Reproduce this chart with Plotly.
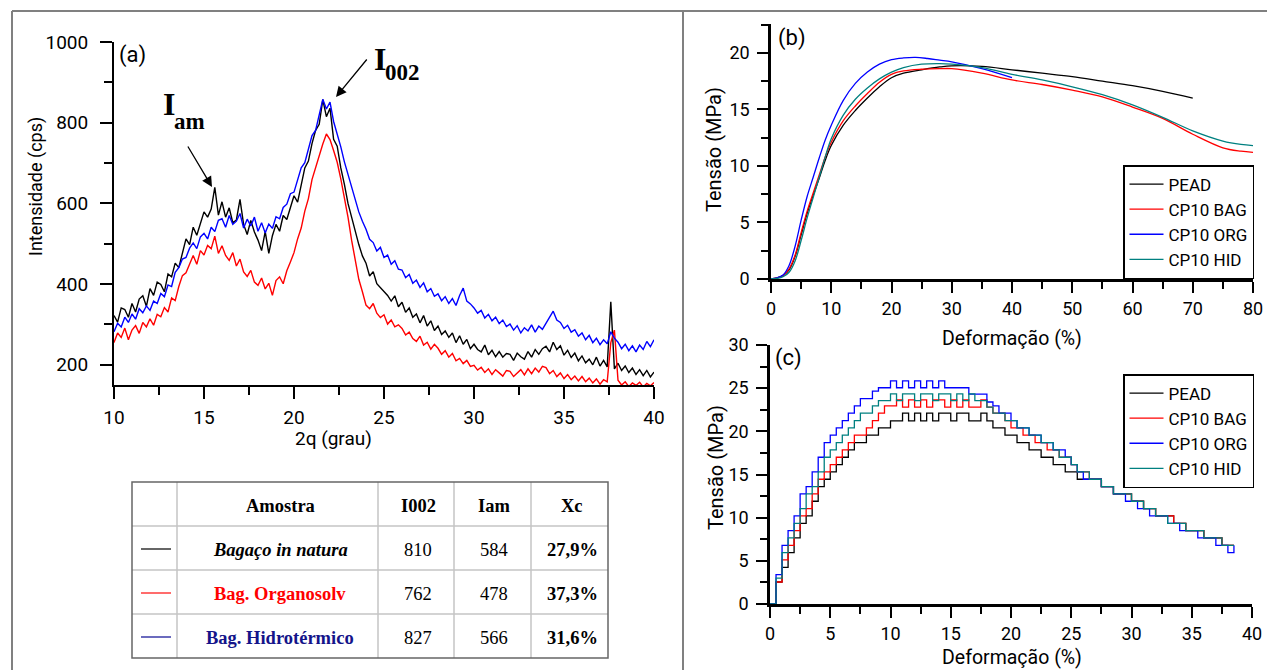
import numpy as np
import plotly.graph_objects as go

W, H = 1267, 670
SANS = "Roboto, Lato, sans-serif"
SERIF = "Liberation Serif, Times New Roman, serif"

# ---------------- (a) XRD data (0.2 deg steps) ----------------
two_theta = np.round(np.arange(10.0, 40.0001, 0.2), 1)
xrd_natura = [
    322, 306, 341, 337, 318, 352, 331, 363, 371, 345,
    389, 372, 405, 399, 381, 425, 418, 452, 441, 478,
    512, 498, 541, 521, 553, 579, 566, 586, 640, 571,
    604, 566, 589, 552, 559, 610, 548, 523, 558, 529,
    509, 483, 530, 476, 520, 548, 531, 570, 560, 591,
    619, 603, 642, 688, 705, 748, 781, 796, 857, 815,
    836, 759, 742, 688, 647, 600, 566, 531, 498, 470,
    452, 420, 431, 401, 392, 381, 372, 358, 371, 344,
    355, 330, 341, 318, 326, 304, 322, 296, 309, 285,
    296, 275, 284, 268, 279, 255, 272, 251, 263, 240,
    251, 238, 232, 249, 225, 236, 220, 233, 219, 228,
    226, 211, 229, 220, 214, 233, 219, 238, 226, 240,
    246, 232, 256, 238, 247, 224, 236, 218, 229, 210,
    222, 205, 214, 200, 219, 197, 211, 195, 356, 190,
    204, 186, 197, 181, 192, 176, 188, 173, 186, 170,
    182]
xrd_organosolv = [
    255, 279, 268, 291, 262, 286, 297, 278, 305, 294,
    314, 298, 325, 319, 342, 331, 366, 359, 394, 421,
    428, 452, 471, 449, 483, 472, 496, 488, 519, 476,
    495, 471, 459, 478, 445, 462, 430, 419, 434, 405,
    397, 415, 388, 402, 372, 409, 418, 401, 433, 455,
    478, 512, 539, 581, 612, 659, 690, 718, 747, 772,
    758, 731, 702, 661, 618, 566, 509, 455, 412, 381,
    348, 339, 352, 328, 317, 324, 301, 311, 294, 299,
    290, 274, 281, 265, 258, 271, 249, 256, 239, 251,
    241, 226, 235, 219, 228, 210, 216, 203, 211, 196,
    199, 187, 194, 181, 190, 176, 188, 180, 172, 186,
    184, 171, 179, 188, 175, 190, 178, 192, 182, 196,
    193, 178, 186, 171, 180, 166, 176, 163, 172, 160,
    171, 158, 167, 155, 165, 152, 163, 158, 255, 286,
    162, 150, 158, 146, 155, 149, 157, 145, 154, 148,
    156]
xrd_hidrotermico = [
    282, 303, 294, 318, 305, 326, 313, 339, 329, 346,
    335, 358, 352, 377, 369, 398, 394, 429, 441, 462,
    466, 489, 502, 488, 517, 526, 512, 541, 530, 558,
    562, 541, 570, 548, 556, 575, 539, 561, 544, 566,
    531, 552, 527, 549, 538, 567, 562, 590, 598, 624,
    628, 661, 688, 701, 732, 768, 781, 817, 858, 834,
    851, 803, 772, 740, 703, 672, 637, 604, 579, 556,
    536, 511, 503, 482, 491, 466, 472, 449, 458, 437,
    435, 416, 424, 402, 410, 392, 403, 381, 389, 370,
    376, 359, 369, 352, 364, 347, 372, 390, 358, 351,
    341, 328, 335, 316, 325, 309, 318, 302, 311, 295,
    301, 286, 297, 279, 292, 284, 299, 281, 296, 288,
    302, 319, 333, 311, 305, 290, 298, 281, 287, 271,
    279, 262, 273, 255, 266, 250, 262, 252, 282, 266,
    256, 240, 251, 235, 247, 232, 249, 238, 258, 245,
    262]

# table values
table_header = ["Amostra", "I002", "Iam", "Xc"]
samples = ["<i>Bagaço in natura</i>", "Bag. Organosolv", "Bag. Hidrotérmico"]
sample_colors = ["#000000", "#ff0000", "#14148a"]
sample_line_colors = ["#333333", "#ff3b3b", "#3a3aa8"]
i002 = [810, 762, 827]
iam = [584, 478, 566]
xc = ["27,9%", "37,3%", "31,6%"]

# ---------------- (b) tensile curves ----------------
b_names = ["PEAD", "CP10 BAG", "CP10 ORG", "CP10 HID"]
b_colors = ["#000000", "#ff0000", "#0000ff", "#008080"]
b_strain_pead = [0, 1, 2, 3, 4, 5, 6, 7, 8, 9, 10, 12, 14, 16, 18, 20, 22, 25, 28, 30, 35, 40, 45, 50, 55, 60, 65, 70]
b_stress_pead = [0, 0.1, 0.3, 0.8, 2.0, 3.9, 5.8, 7.4, 8.9, 10.5, 11.8, 13.6, 14.9, 16.0, 17.0, 17.8, 18.2, 18.5,
                 18.75, 18.85, 18.8, 18.5, 18.2, 17.9, 17.5, 17.1, 16.6, 16.0]
b_strain_bag = [0, 1, 2, 3, 4, 5, 6, 7, 8, 9, 10, 12, 14, 16, 18, 20, 22, 25, 28, 30, 35, 40, 45, 50, 55, 60, 65, 70, 75, 78, 80]
b_stress_bag = [0, 0.1, 0.3, 0.9, 2.1, 4.1, 6.0, 7.6, 9.2, 10.8, 12.1, 14.0, 15.3, 16.4, 17.4, 18.1, 18.4, 18.55,
                18.6, 18.6, 18.2, 17.6, 17.2, 16.7, 16.1, 15.2, 14.2, 12.8, 11.6, 11.3, 11.2]
b_strain_org = [0, 1, 2, 3, 4, 5, 6, 7, 8, 9, 10, 12, 14, 16, 18, 20, 22, 24, 26, 28, 30, 35, 40]
b_stress_org = [0, 0.1, 0.35, 1.2, 2.9, 5.2, 7.3, 9.0, 10.7, 12.3, 13.6, 15.8, 17.3, 18.3, 19.0, 19.4, 19.55, 19.6,
                19.5, 19.35, 19.2, 18.6, 17.8]
b_strain_hid = [0, 1, 2, 3, 4, 5, 6, 7, 8, 9, 10, 12, 14, 16, 18, 20, 22, 25, 28, 30, 35, 40, 45, 50, 55, 60, 65, 70, 75, 78, 80]
b_stress_hid = [0, 0.05, 0.2, 0.6, 1.6, 3.4, 5.4, 7.2, 9.0, 10.8, 12.4, 14.5, 15.9, 16.9, 17.7, 18.3, 18.7, 19.0,
                19.05, 19.0, 18.7, 18.1, 17.6, 17.0, 16.3, 15.4, 14.3, 13.1, 12.2, 11.9, 11.8]

# ---------------- (c) stepped tensile curves ----------------
c_strain = np.round(np.arange(0, 38.51, 0.5), 1)
c_stress_pead = [
    0, 2.55, 4.25, 5.95, 7.65, 9.35, 10.2, 11.9, 13.6, 14.45,
    15.3, 16.15, 17.0, 17.85, 18.7, 18.7, 19.55, 19.55, 20.4, 20.4,
    21.2, 21.2, 22.1, 21.2, 22.1, 21.2, 22.1, 21.2, 22.1, 22.1,
    21.2, 22.1, 22.1, 21.2, 21.2, 22.1, 21.2, 20.4, 20.4, 19.55,
    19.55, 18.7, 18.7, 17.85, 17.85, 17.0, 17.0, 16.15, 16.15, 15.3,
    15.3,
    14.45, 14.45, 14.45, 14.45, 13.6, 13.6, 12.75, 12.75, 12.75, 11.9,
    11.9, 11.05, 11.05, 10.2, 10.2, 10.2, 9.35, 9.35, 8.5, 8.5,
    8.5, 7.65, 7.65, 7.65, 6.8, 6.8, 6.8]
c_stress_bag = [
    0, 2.55, 5.1, 6.8, 8.5, 10.2, 11.05, 12.75, 14.45, 15.3,
    16.15, 17.0, 17.85, 18.7, 19.55, 19.55, 20.4, 21.25, 22.1, 22.95,
    22.95, 23.65, 22.8, 23.65, 22.8, 23.65, 22.8, 23.65, 23.65, 22.8,
    23.65, 22.8, 23.65, 22.8, 22.8, 23.65, 22.8, 22.1, 22.1, 21.25,
    20.4, 20.4, 19.55, 19.55, 18.7, 18.7, 17.85, 17.85, 17.0, 17.0,
    16.15,
    15.3, 15.3, 14.45, 14.45, 13.6, 13.6, 12.75, 12.75, 12.75, 11.9,
    11.9, 11.05, 11.05, 10.2, 10.2, 10.2, 9.35, 9.35, 8.5, 8.5,
    8.5, 7.65, 7.65, 7.65, 6.8, 6.8, 6.8]
c_stress_org = [
    0, 3.4, 6.8, 8.5, 10.2, 12.75, 13.6, 15.3, 17.0, 18.7,
    19.55, 20.4, 21.25, 22.1, 22.95, 23.8, 23.8, 24.65, 25.05, 25.05,
    25.85, 25.05, 25.85, 25.05, 25.85, 25.05, 25.85, 25.05, 25.85, 25.05,
    25.05, 25.05, 25.05, 24.3, 24.3, 24.3, 23.4, 22.95, 22.1, 22.1,
    21.25, 20.4, 20.4, 19.55, 19.55, 18.7, 18.7, 17.85, 17.85, 17.0,
    16.15,
    15.3, 14.45, 14.45, 14.45, 13.6, 13.6, 12.75, 12.75, 11.9, 11.9,
    11.05, 11.05, 10.2, 10.2, 10.2, 9.35, 9.35, 8.5, 8.5, 8.5,
    7.65, 7.65, 7.65, 6.8, 6.8, 5.95, 6.8]
c_stress_hid = [
    0, 3.0, 5.95, 7.65, 9.35, 11.05, 12.75, 13.6, 15.3, 17.0,
    17.85, 18.7, 19.55, 20.4, 21.25, 22.1, 22.1, 22.95, 23.55, 23.55,
    24.35, 23.55, 24.35, 24.35, 23.55, 24.35, 24.35, 23.55, 24.35, 24.35,
    23.55, 24.35, 23.55, 24.35, 23.55, 23.55, 22.8, 22.1, 22.1, 21.25,
    21.25, 20.4, 20.4, 19.55, 19.55, 18.7, 18.7, 17.85, 17.0, 17.0,
    16.15,
    15.3, 15.3, 14.45, 14.45, 13.6, 13.6, 12.75, 12.75, 12.75, 11.9,
    11.9, 11.05, 11.05, 10.2, 10.2, 9.35, 9.35, 9.35, 8.5, 8.5,
    8.5, 7.65, 7.65, 7.65, 6.8, 6.8, 6.8]


def px(x):
    return x / W


def py(y):
    return 1 - y / H


fig = go.Figure()

# (a)
for yv, col in [(xrd_natura, "#000000"), (xrd_organosolv, "#ff0000"), (xrd_hidrotermico, "#0000ff")]:
    fig.add_trace(go.Scatter(x=two_theta, y=yv, mode="lines", line=dict(color=col, width=1.4),
                             xaxis="x", yaxis="y", showlegend=False, hoverinfo="skip"))

# (b)
b_data = [(b_strain_pead, b_stress_pead), (b_strain_bag, b_stress_bag),
          (b_strain_org, b_stress_org), (b_strain_hid, b_stress_hid)]
for (xs, ys), nm, col in zip(b_data, b_names, b_colors):
    fig.add_trace(go.Scatter(x=xs, y=ys, mode="lines", name=nm,
                             line=dict(color=col, width=1.3, shape="spline", smoothing=1.0),
                             xaxis="x2", yaxis="y2", legend="legend", hoverinfo="skip"))

# (c)
for ys, nm, col in zip([c_stress_pead, c_stress_bag, c_stress_org, c_stress_hid], b_names, b_colors):
    fig.add_trace(go.Scatter(x=c_strain, y=ys, mode="lines", name=nm,
                             line=dict(color=col, width=1.3, shape="hv"),
                             xaxis="x3", yaxis="y3", legend="legend2", hoverinfo="skip"))


def ax(domain, rng, dtick, mdtick, anchor, tickfont, lw, tl, mtl, tick0=0, standoff=None):
    d = dict(domain=domain, range=rng, anchor=anchor, showline=True, linecolor="black", linewidth=lw,
             showgrid=False, zeroline=False, ticks="outside", ticklen=tl, tickwidth=2, tickcolor="black",
             tick0=tick0, dtick=dtick, tickfont=dict(family=SANS, size=tickfont, color="black"),
             minor=dict(ticks="outside", ticklen=mtl, tickwidth=2, tickcolor="black", dtick=mdtick,
                        showgrid=False),
             fixedrange=True, automargin=False)
    if standoff is not None:
        d["ticklabelstandoff"] = standoff
    return d


leg_common = dict(xanchor="right", yanchor="top", bgcolor="white", bordercolor="black", borderwidth=1.5,
                  font=dict(family=SANS, size=17, color="black"), itemwidth=34, tracegroupgap=0)

layout = dict(
    width=W, height=H, autosize=False,
    margin=dict(l=0, r=0, t=0, b=0, pad=0, autoexpand=False),
    paper_bgcolor="white", plot_bgcolor="white",
    xaxis=ax([px(114), px(654)], [10, 40], 5, 2.5, "y", 19, 2, 12, 8, tick0=10, standoff=2),
    yaxis=ax([py(385), py(42)], [150, 1000], 200, 100, "x", 19, 2, 12, 8, tick0=200, standoff=8),
    xaxis2=ax([px(771), px(1253)], [0, 80], 10, 5, "y2", 18, 2.5, 11, 7, standoff=1),
    yaxis2=ax([py(279), py(24)], [0, 22.55], 5, 2.5, "x2", 18, 2.5, 11, 7, standoff=4),
    xaxis3=ax([px(770), px(1252)], [0, 40], 5, 2.5, "y3", 18, 2.5, 11, 7, standoff=1),
    yaxis3=ax([py(604), py(345)], [0, 30], 5, 2.5, "x3", 18, 2.5, 11, 7, standoff=4),
    legend=dict(x=px(1254), y=py(165), **leg_common),
    legend2=dict(x=px(1254), y=py(374), **leg_common),
)
fig.update_layout(**layout)

ann = []


def text(x, y, s, size, family=SANS, angle=0, color="black", xanchor="center"):
    ann.append(dict(x=px(x), y=py(y), xref="paper", yref="paper", text=s, showarrow=False,
                    textangle=angle, xanchor=xanchor, yanchor="middle",
                    font=dict(family=family, size=size, color=color)))


# axis titles and panel labels
text(36, 187, "Intensidade (cps)", 18, angle=-90)
text(333, 438, "2q (grau)", 19)
text(132, 55, "(a)", 22)
text(792, 38, "(b)", 22)
text(788, 358, "(c)", 22)
text(714, 150, "Tensão (MPa)", 20, angle=-90)
text(716, 467, "Tensão (MPa)", 20, angle=-90)
text(1012, 339, "Deformação (%)", 19.5)
text(1012, 657, "Deformação (%)", 19.5)

# peak labels
text(161, 104, "<b>I</b>", 32, family=SERIF, xanchor="left")
text(172, 121, "<b>am</b>", 23, family=SERIF, xanchor="left")
text(372, 59, "<b>I</b>", 32, family=SERIF, xanchor="left")
text(383, 73, "<b>002</b>", 23, family=SERIF, xanchor="left")
for tip, tail in [((212, 187), (187, 145)), ((336, 97), (368, 58))]:
    ann.append(dict(x=px(tip[0]), y=py(tip[1]), xref="paper", yref="paper", text="", showarrow=True,
                    ax=tail[0] - tip[0], ay=tail[1] - tip[1], arrowhead=2, arrowsize=1.6,
                    arrowwidth=1.3, arrowcolor="black"))

# table text
col_x = [280, 418, 494, 572]
for cx, h in zip(col_x, table_header):
    text(cx, 506, "<b>%s</b>" % h, 18.5, family=SERIF)
row_y = [550, 594, 638]
for i in range(3):
    text(col_x[0], row_y[i], "<b>%s</b>" % samples[i], 18.5, family=SERIF, color=sample_colors[i])
    text(col_x[1], row_y[i], str(i002[i]), 18.5, family=SERIF)
    text(col_x[2], row_y[i], str(iam[i]), 18.5, family=SERIF)
    text(col_x[3], row_y[i], "<b>%s</b>" % xc[i], 18.5, family=SERIF)

fig.update_layout(annotations=ann)

shapes = []


def line(x0, y0, x1, y1, color, width):
    shapes.append(dict(type="line", xref="paper", yref="paper", x0=px(x0), y0=py(y0), x1=px(x1), y1=py(y1),
                       line=dict(color=color, width=width)))


# frame
line(12, 11, 1267, 11, "#808080", 2)
line(12, 11, 12, 670, "#808080", 2)
line(683, 11, 683, 670, "#808080", 2)

# table grid
for yy in [526, 570, 614]:
    line(132, yy, 608, yy, "#c4c4c4", 1.5)
for xx in [177, 378, 454, 531]:
    line(xx, 482, xx, 658, "#c4c4c4", 1.5)
shapes.append(dict(type="rect", xref="paper", yref="paper", x0=px(132), y0=py(658), x1=px(608), y1=py(482),
                   line=dict(color="#666666", width=1.5)))
for i in range(3):
    line(141, row_y[i] - 1, 171, row_y[i] - 1, sample_line_colors[i], 1.5)

fig.update_layout(shapes=shapes)

fig.write_html("out.html", config={"displayModeBar": False},
               post_script="document.body.style.margin='0px';document.body.style.overflow='hidden';")
